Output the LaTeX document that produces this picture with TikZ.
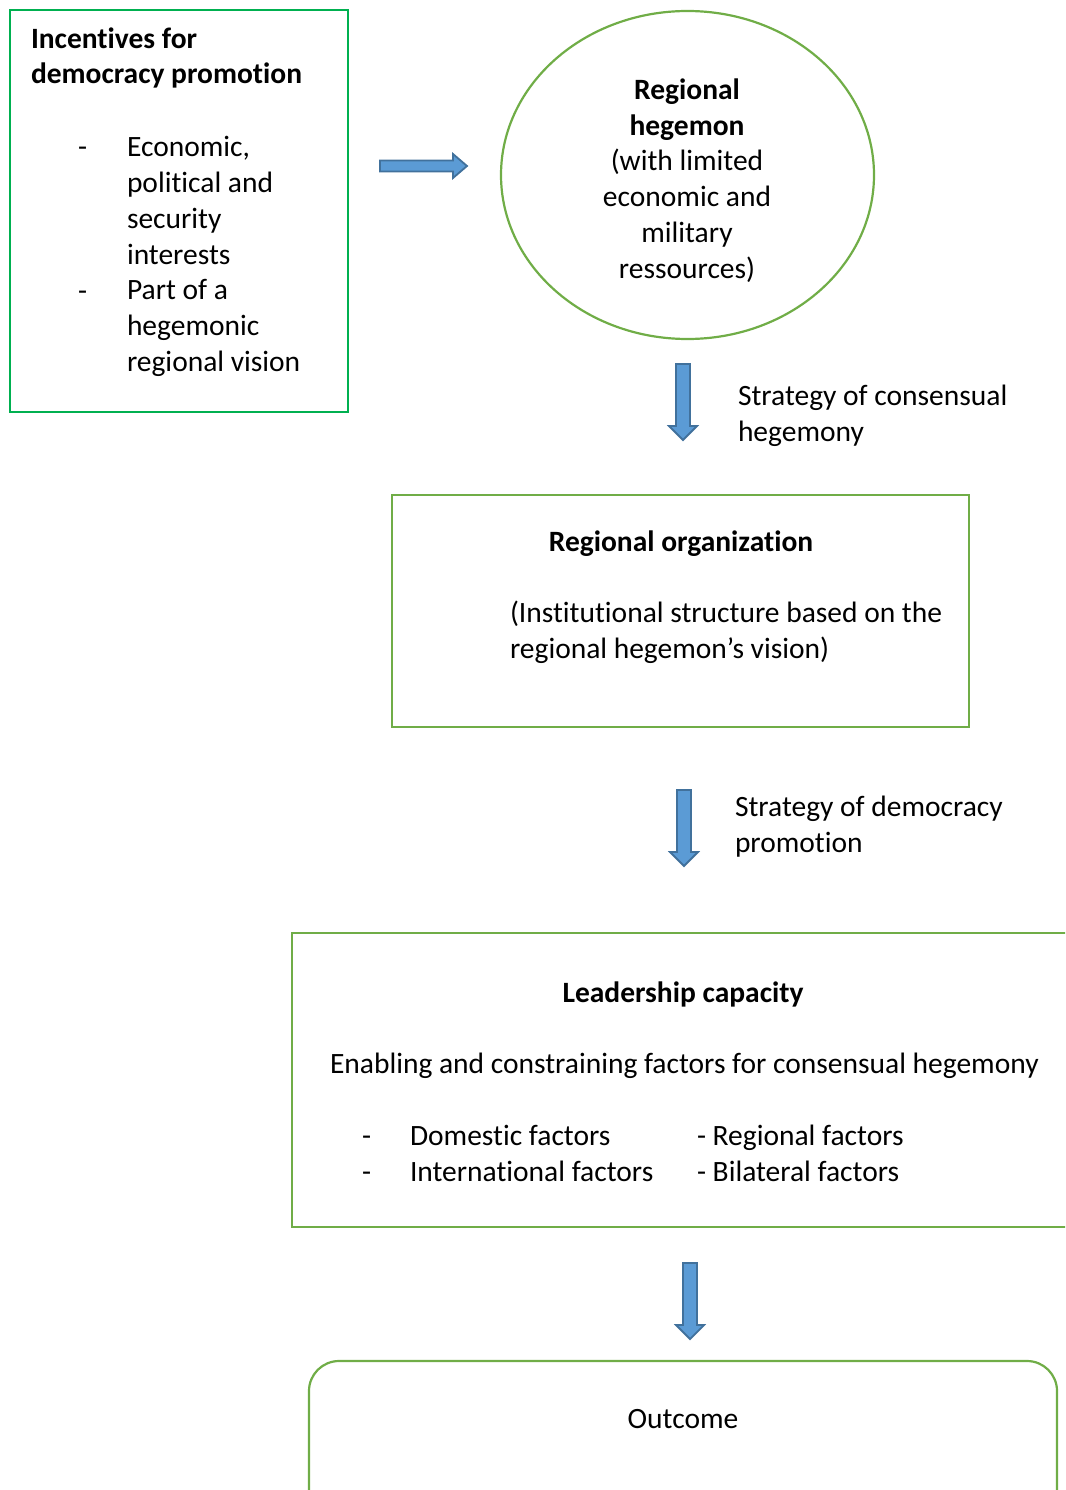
\documentclass[tikz,border=0pt]{standalone}
\usepackage{fontspec}
\setmainfont{Carlito}[Ligatures=NoCommon]
\usetikzlibrary{shapes.geometric}
\definecolor{gA}{HTML}{00B050}
\definecolor{gB}{HTML}{70AD47}
\definecolor{arrFill}{HTML}{5B9BD5}
\definecolor{arrLine}{HTML}{41719C}
\newcommand\dfont{\fontsize{29.5}{35.7}\selectfont}
\begin{document}
\begin{tikzpicture}[x=1pt,y=-1pt,
  txt/.style={inner sep=0pt,outer sep=0pt,font=\dfont},
  btxt/.style={inner sep=0pt,outer sep=0pt,font=\dfont\bfseries},
  boxA/.style={draw=gA,line width=2pt,rectangle,inner sep=0pt},
  boxB/.style={draw=gB,line width=2.2pt,rectangle,inner sep=0pt},
  blockarrow/.style={draw=arrLine,fill=arrFill,line width=1.8pt,line join=miter},
  downarr/.pic={\draw[blockarrow] (-7,0) -- (7,0) -- (7,62) -- (14,62) -- (0,76) -- (-14,62) -- (-7,62) -- cycle;},
  rightarr/.pic={\draw[blockarrow] (0,-5.5) -- (73,-5.5) -- (73,-12) -- (87,0) -- (73,12) -- (73,5.5) -- (0,5.5) -- cycle;}
]
\useasboundingbox (0,0) rectangle (1065,1490);
\clip (0,0) rectangle (1065,1490);

% Box 1: incentives (base anchor = baseline of last line)
\node[boxA,minimum width=338pt,minimum height=402pt] (incent) at (179,211) {};
\node[btxt,anchor=base west,align=left] (incentH) at (31,84) {Incentives for\\democracy promotion};
\node[txt,anchor=base west] (dashA) at (78,157) {-};
\node[txt,anchor=base west,align=left] (bulA) at (127,264) {Economic,\\political and\\security\\interests};
\node[txt,anchor=base west] (dashB) at (78,300) {-};
\node[txt,anchor=base west,align=left] (bulB) at (127,371) {Part of a\\hegemonic\\regional vision};

% arrow right
\pic at (380,166) {rightarr};

% Ellipse: regional hegemon
\node[draw=gB,line width=2.2pt,ellipse,minimum width=373pt,minimum height=328pt,inner sep=0pt] (hegemon) at (687.5,175) {};
\node[txt,anchor=base,align=center] (hegemonT) at (687,278) {\textbf{Regional}\\\textbf{hegemon}\\(with limited\\economic and\\military\\ressources)};

% arrow 1 + label
\pic at (683,364) {downarr};
\node[txt,anchor=base west,align=left] (lab1) at (738,441) {Strategy of consensual\\hegemony};

% Box 2: regional organization
\node[boxB,minimum width=577pt,minimum height=232pt] (regorg) at (680.5,611) {};
\node[btxt,anchor=base] (regorgH) at (681,551) {Regional organization};
\node[txt,anchor=base west,align=left] (regorgT) at (510,658) {(Institutional structure based on the\\regional hegemon’s vision)};

% arrow 2 + label
\pic at (684,790) {downarr};
\node[txt,anchor=base west,align=left] (lab2) at (735,852) {Strategy of democracy\\promotion};

% Box 3: leadership capacity
\node[boxB,minimum width=800pt,minimum height=294pt] (lead) at (692,1080) {};
\node[btxt,anchor=base] (leadH) at (683,1002) {Leadership capacity};
\node[txt,anchor=base west] (leadT) at (330,1073) {Enabling and constraining factors for consensual hegemony};
\node[txt,anchor=base west] (dashC) at (362,1145) {-};
\node[txt,anchor=base west] (dashD) at (362,1181) {-};
\node[txt,anchor=base west] (dom) at (410,1145) {Domestic factors};
\node[txt,anchor=base west] (intl) at (410,1181) {International factors};
\node[txt,anchor=base west] (regf) at (697,1145) {- Regional factors};
\node[txt,anchor=base west] (bilf) at (697,1181) {- Bilateral factors};

% arrow 3
\pic at (690,1263) {downarr};

% Outcome
\node[draw=gB,line width=2.2pt,rectangle,rounded corners=30pt,minimum width=748pt,minimum height=180pt,inner sep=0pt] (outc) at (683,1451) {};
\node[txt,anchor=base] (outcT) at (683,1428) {Outcome};
\end{tikzpicture}
\end{document}
